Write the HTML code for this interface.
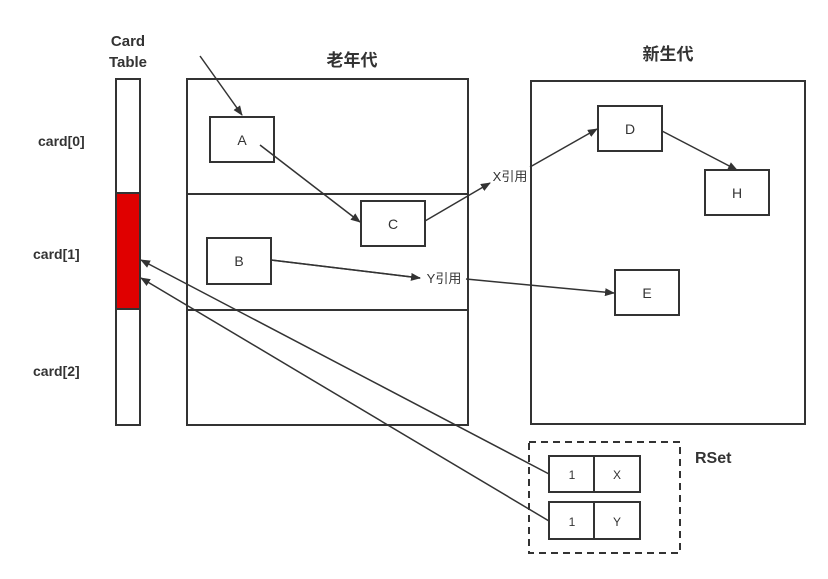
<!DOCTYPE html>
<html><head><meta charset="utf-8"><style>
body{margin:0;background:#fff}
svg{display:block}
text{font-family:"Liberation Sans","Noto Sans CJK SC",sans-serif;fill:#333}
</style></head><body>
<svg width="828" height="579" viewBox="0 0 828 579" xmlns="http://www.w3.org/2000/svg">
<defs><marker id="a" markerWidth="10" markerHeight="8" refX="9" refY="4" orient="auto" markerUnits="userSpaceOnUse"><path d="M0,0 L10,4 L0,8 Z" fill="#333"/></marker></defs>
<g stroke="#333" stroke-width="2" fill="none">
<rect x="116" y="79" width="24" height="346" fill="#fff"/>
<rect x="116" y="193" width="24" height="116" fill="#e00000"/>
<rect x="187" y="79" width="281" height="346"/>
<line x1="187" y1="194" x2="468" y2="194"/>
<line x1="187" y1="310" x2="468" y2="310"/>
<rect x="531" y="81" width="274" height="343"/>
<rect x="210" y="117" width="64" height="45"/>
<rect x="361" y="201" width="64" height="45"/>
<rect x="207" y="238" width="64" height="46"/>
<rect x="598" y="106" width="64" height="45"/>
<rect x="705" y="170" width="64" height="45"/>
<rect x="615" y="270" width="64" height="45"/>
<rect x="529" y="442" width="151" height="111" stroke-dasharray="7,5"/>
<rect x="549" y="456" width="91" height="36"/>
<line x1="594" y1="456" x2="594" y2="492"/>
<rect x="549" y="502" width="91" height="37"/>
<line x1="594" y1="502" x2="594" y2="539"/>
</g>
<g stroke="#333" stroke-width="1.5" fill="none" marker-end="url(#a)">
<line x1="200" y1="56" x2="242" y2="115"/>
<line x1="260" y1="145" x2="360" y2="222"/>
<polyline points="425,221 490,183"/>
<polyline points="530,167 597,129"/>
<line x1="662" y1="131" x2="737" y2="170"/>
<polyline points="271,260 420,278"/>
<polyline points="466,279 614,293"/>
<line x1="549" y1="474" x2="141" y2="260"/>
<line x1="549" y1="521" x2="141" y2="278"/>
</g>
<g stroke="#333" stroke-width="1.5"><line x1="271" y1="260" x2="420" y2="278"/></g>
<text x="128" y="46" font-size="15" font-weight="bold" text-anchor="middle">Card</text>
<text x="128" y="67" font-size="15" font-weight="bold" text-anchor="middle">Table</text>
<text x="352" y="66" font-size="17" font-weight="bold" text-anchor="middle">老年代</text>
<text x="668" y="60" font-size="17" font-weight="bold" text-anchor="middle">新生代</text>
<text x="38" y="146" font-size="14" font-weight="bold">card[0]</text>
<text x="33" y="259" font-size="14" font-weight="bold">card[1]</text>
<text x="33" y="376" font-size="14" font-weight="bold">card[2]</text>
<text x="695" y="463" font-size="16" font-weight="bold">RSet</text>
<g font-size="14" text-anchor="middle">
<text x="242" y="145">A</text><text x="393" y="229">C</text><text x="239" y="266">B</text>
<text x="630" y="134">D</text><text x="737" y="198">H</text><text x="647" y="298">E</text>
<text x="510" y="181" font-size="13">X引用</text>
<text x="444" y="283" font-size="13">Y引用</text>
<text x="572" y="479" font-size="12">1</text><text x="617" y="479" font-size="12">X</text>
<text x="572" y="526" font-size="12">1</text><text x="617" y="526" font-size="12">Y</text>
</g>
</svg>
</body></html>
